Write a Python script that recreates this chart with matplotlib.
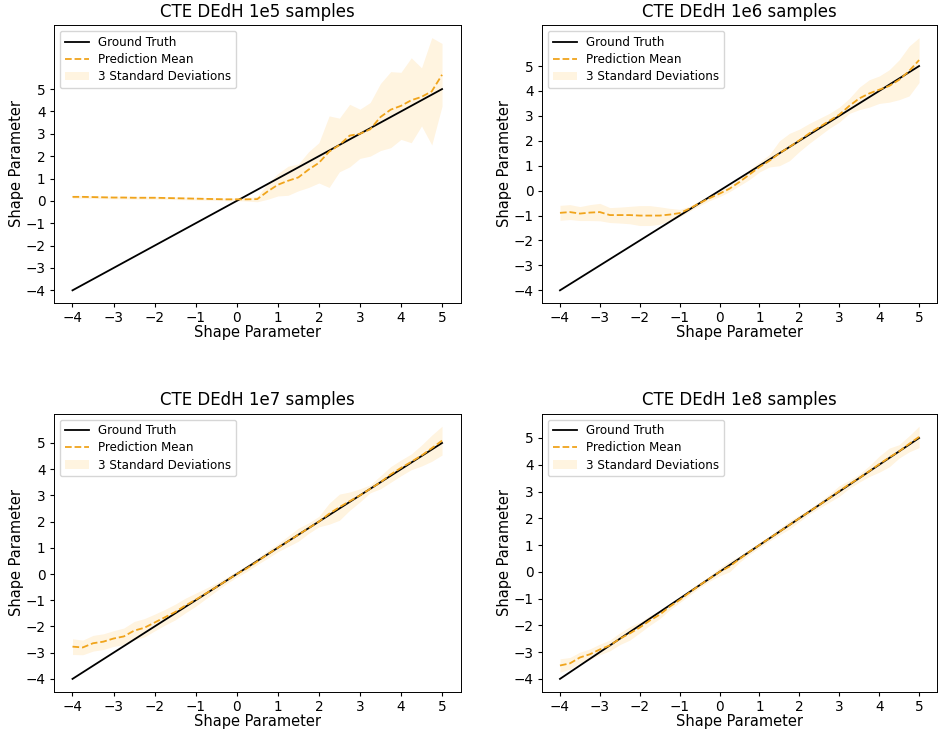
import numpy as np
from matplotlib import pyplot as plt

# shape parameter grid (ground truth)
shape_true = [-4, -3.75, -3.5, -3.25, -3, -2.75, -2.5, -2.25, -2, -1.75, -1.5, -1.25,
              -1, -0.75, -0.5, -0.25, 0, 0.25, 0.5, 0.75, 1, 1.25, 1.5, 1.75, 2, 2.25,
              2.5, 2.75, 3, 3.25, 3.5, 3.75, 4, 4.25, 4.5, 4.75, 5]

titles = ["CTE DEdH 1e5 samples", "CTE DEdH 1e6 samples",
          "CTE DEdH 1e7 samples", "CTE DEdH 1e8 samples"]

# prediction means
mean_1e5 = [0.18, 0.18, 0.17, 0.16, 0.15, 0.15, 0.14, 0.14, 0.14, 0.13, 0.12, 0.11,
            0.10, 0.09, 0.08, 0.07, 0.07, 0.07, 0.08, 0.42, 0.72, 0.90, 1.05, 1.40,
            1.70, 2.20, 2.50, 2.92, 3.00, 3.20, 3.75, 4.08, 4.25, 4.50, 4.65, 4.90, 5.64]
mean_1e6 = [-0.89, -0.86, -0.92, -0.88, -0.86, -0.98, -0.98, -0.98, -1.0, -1.0, -1.0,
            -0.96, -0.9, -0.72, -0.5, -0.3, -0.12, 0.08, 0.35, 0.65, 0.95, 1.2, 1.5,
            1.75, 2.02, 2.3, 2.55, 2.8, 3.05, 3.4, 3.7, 3.9, 4.05, 4.2, 4.45, 4.8, 5.24]
mean_1e7 = [-2.77, -2.8, -2.64, -2.58, -2.46, -2.38, -2.16, -2.05, -1.85, -1.65, -1.45,
            -1.2, -0.98, -0.74, -0.5, -0.25, 0.0, 0.22, 0.48, 0.75, 1.0, 1.25, 1.5,
            1.75, 2.0, 2.3, 2.55, 2.78, 3.0, 3.25, 3.5, 3.8, 4.05, 4.28, 4.52, 4.8, 5.09]
mean_1e8 = [-3.5, -3.42, -3.2, -3.08, -2.9, -2.75, -2.5, -2.3, -2.08, -1.82, -1.6,
            -1.3, -1.05, -0.77, -0.5, -0.25, 0.0, 0.2, 0.48, 0.75, 1.0, 1.25, 1.5,
            1.75, 2.0, 2.25, 2.5, 2.75, 3.02, 3.27, 3.5, 3.76, 4.02, 4.27, 4.5, 4.78, 5.04]

# 3 standard deviations (half width of band)
sd3_1e5 = [0.06, 0.06, 0.06, 0.06, 0.06, 0.06, 0.06, 0.06, 0.06, 0.06, 0.06, 0.06,
           0.06, 0.06, 0.06, 0.06, 0.06, 0.08, 0.12, 0.35, 0.5, 0.65, 0.6, 0.8, 0.9,
           1.6, 1.2, 1.4, 1.1, 1.2, 1.5, 1.7, 1.5, 1.9, 1.3, 2.4, 1.4]
sd3_1e6 = [0.3, 0.3, 0.28, 0.32, 0.35, 0.3, 0.32, 0.35, 0.4, 0.4, 0.35, 0.25, 0.15,
           0.1, 0.1, 0.1, 0.12, 0.12, 0.15, 0.2, 0.2, 0.25, 0.5, 0.55, 0.45, 0.4,
           0.35, 0.3, 0.3, 0.3, 0.45, 0.55, 0.55, 0.65, 0.8, 1.0, 0.9]
sd3_1e7 = [0.3, 0.28, 0.3, 0.3, 0.3, 0.32, 0.35, 0.35, 0.32, 0.3, 0.3, 0.28, 0.25,
           0.2, 0.15, 0.12, 0.12, 0.12, 0.12, 0.15, 0.15, 0.2, 0.25, 0.2, 0.2, 0.4,
           0.5, 0.35, 0.25, 0.15, 0.25, 0.3, 0.3, 0.3, 0.4, 0.5, 0.55]
sd3_1e8 = [0.25, 0.22, 0.2, 0.2, 0.2, 0.2, 0.22, 0.25, 0.2, 0.18, 0.15, 0.12, 0.1,
           0.1, 0.1, 0.1, 0.15, 0.2, 0.12, 0.1, 0.1, 0.1, 0.12, 0.15, 0.12, 0.1,
           0.12, 0.15, 0.2, 0.15, 0.15, 0.2, 0.3, 0.35, 0.25, 0.3, 0.4]

means = [mean_1e5, mean_1e6, mean_1e7, mean_1e8]
sds = [sd3_1e5, sd3_1e6, sd3_1e7, sd3_1e8]

plt.rcParams["xtick.major.size"] = 3
plt.rcParams["ytick.major.size"] = 3
plt.rcParams["xtick.major.pad"] = 3
plt.rcParams["ytick.major.pad"] = 3
plt.rcParams["axes.linewidth"] = 0.7

fig = plt.figure(figsize=(9.41, 7.29), dpi=100)
rects = [
    [0.0574, 0.5844, 0.432, 0.3813],
    [0.576, 0.5844, 0.4198, 0.3813],
    [0.0574, 0.0514, 0.432, 0.3813],
    [0.576, 0.0514, 0.4198, 0.3813],
]

x = np.array(shape_true)
for rect, title, mu, sd in zip(rects, titles, means, sds):
    ax = fig.add_axes(rect)
    mu = np.array(mu)
    sd = np.array(sd)
    ax.plot(x, x, color="black", lw=1.3, label="Ground Truth")
    ax.plot(x, mu, color="#f0a41c", ls="--", lw=1.3, label="Prediction Mean")
    ax.fill_between(x, mu - sd, mu + sd, color="orange", alpha=0.12,
                    lw=0, label="3 Standard Deviations")
    ax.set_xticks(range(-4, 6))
    ax.set_yticks(range(-4, 6))
    ax.tick_params(labelsize=9.8)
    ax.set_title(title, fontsize=12)
    ax.set_xlabel("Shape Parameter", fontsize=10.5, labelpad=0)
    ax.set_ylabel("Shape Parameter", fontsize=10.5, labelpad=1)
    ax.legend(loc="upper left", fontsize=8.6, labelspacing=0.35)

plt.savefig("out.png", dpi=100)
